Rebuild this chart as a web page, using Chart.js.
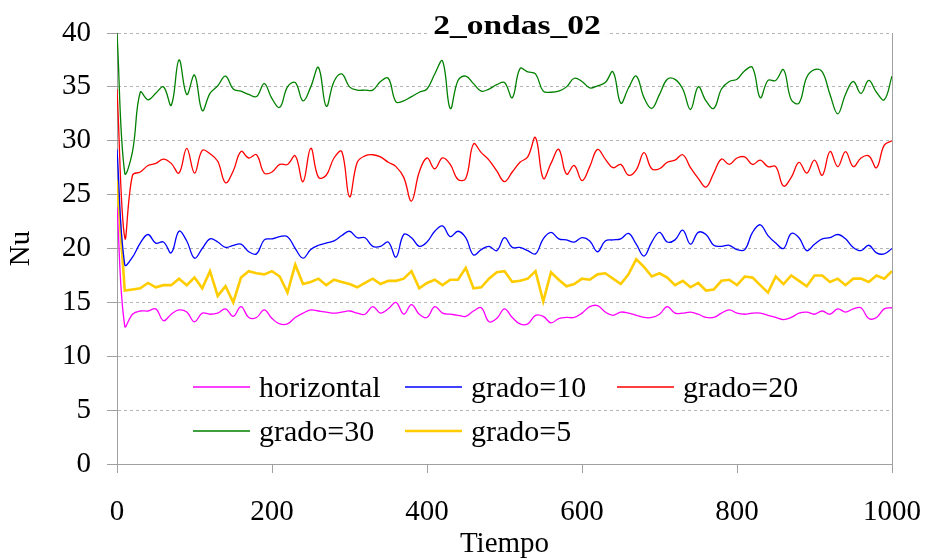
<!DOCTYPE html>
<html>
<head>
<meta charset="utf-8">
<title>2_ondas_02</title>
<script src="https://cdn.jsdelivr.net/npm/chart.js@4.4.0/dist/chart.umd.min.js"></script>
<style>
    html, body { margin: 0; padding: 0; background: #fff; }
</style>
</head>
<body>
<canvas id="chart" width="926" height="559"></canvas>
<script>
// Tiempo (x values)
const TIEMPO = [
    0, 10, 20, 30, 40, 50, 60, 70, 80, 90,
    100, 110, 120, 130, 140, 150, 160, 170, 180, 190,
    200, 210, 220, 230, 240, 250, 260, 270, 280, 290,
    300, 310, 320, 330, 340, 350, 360, 370, 380, 390,
    400, 410, 420, 430, 440, 450, 460, 470, 480, 490,
    500, 510, 520, 530, 540, 550, 560, 570, 580, 590,
    600, 610, 620, 630, 640, 650, 660, 670, 680, 690,
    700, 710, 720, 730, 740, 750, 760, 770, 780, 790,
    800, 810, 820, 830, 840, 850, 860, 870, 880, 890,
    900, 910, 920, 930, 940, 950, 960, 970, 980, 990,
    1000
];

const Y_TICKS = { min: 0, max: 40, step: 5 };
const X_TICKS = { min: 0, max: 1000, step: 200 };

// Nu per series
const HORIZONTAL = [
    23.8, 12.8, 13.9, 14.2, 14.2, 14.4, 13.3, 13.9, 14.3, 14.1,
    13.2, 14.0, 13.9, 14.0, 14.4, 13.7, 14.6, 13.6, 13.6, 14.3,
    13.5, 13.0, 13.0, 13.6, 14.0, 14.3, 14.2, 14.1, 14.0, 14.1,
    14.2, 14.0, 13.9, 14.6, 14.0, 14.4, 15.0, 13.9, 14.8, 13.9,
    13.6, 14.6, 14.0, 13.9, 13.8, 13.7, 14.2, 14.5, 13.2, 13.5,
    14.4, 13.6, 13.0, 13.0, 13.8, 13.7, 13.1, 13.5, 13.6, 13.6,
    14.0, 14.6, 14.7, 14.1, 13.8, 14.1, 14.0, 13.8, 13.6, 13.6,
    13.9, 14.6, 14.0, 14.0, 14.1, 13.9, 13.6, 13.6, 14.0, 14.3,
    14.0, 13.9, 14.0, 14.0, 13.8, 13.6, 13.4, 13.6, 14.0, 14.1,
    13.9, 14.2, 13.9, 14.4, 14.1, 14.4, 14.5, 13.5, 13.6, 14.4,
    14.5
];

const GRADO_10 = [
    29.2, 18.5, 19.2, 20.5, 21.3, 20.5, 20.6, 19.6, 21.6, 20.7,
    19.1, 20.0, 20.9, 20.6, 20.1, 20.3, 20.4, 19.7, 19.5, 20.8,
    20.9, 21.1, 21.1, 20.0, 19.1, 19.9, 20.3, 20.5, 20.7, 21.2,
    21.6, 21.0, 21.0, 20.2, 20.2, 20.6, 19.2, 21.3, 21.0, 20.2,
    20.6, 21.6, 22.1, 21.1, 21.6, 21.0, 19.4, 19.9, 20.2, 19.8,
    21.0, 20.1, 20.1, 19.8, 19.5, 20.9, 21.5, 20.9, 20.8, 20.6,
    21.0, 20.7, 19.7, 20.7, 20.8, 20.9, 21.4, 20.4, 19.3, 20.6,
    21.5, 20.6, 20.8, 21.7, 20.4, 21.5, 21.3, 20.3, 20.2, 20.3,
    19.9, 19.9, 21.5, 22.2, 21.2, 20.5, 20.0, 21.4, 21.0, 19.8,
    20.4, 20.9, 21.0, 21.3, 20.9, 20.1, 19.8, 20.3, 19.6, 19.5,
    20.0
];

const GRADO_20 = [
    34.8, 21.0, 26.8, 27.1, 27.7, 27.9, 28.3, 27.9, 27.0, 29.3,
    27.0, 29.1, 28.8, 28.1, 26.1, 27.2, 29.0, 28.4, 28.7, 27.0,
    27.1, 27.8, 27.8, 28.6, 26.2, 29.3, 26.6, 26.8, 28.4, 29.0,
    24.8, 28.0, 28.6, 28.7, 28.5, 28.0, 27.6, 26.6, 24.4, 27.1,
    28.4, 27.4, 28.4, 27.8, 26.4, 26.5, 29.7, 28.9, 28.2, 27.2,
    26.2, 27.1, 28.0, 28.5, 30.3, 26.5, 27.9, 29.2, 26.9, 27.7,
    26.3, 27.6, 29.2, 28.3, 27.5, 27.8, 26.8, 27.3, 28.9, 27.4,
    27.4, 28.0, 28.2, 28.7, 27.5, 26.5, 25.7, 27.0, 28.3, 27.8,
    28.4, 28.5, 27.8, 28.2, 27.6, 27.6, 25.8, 26.6, 28.0, 27.0,
    28.2, 26.8, 29.0, 27.6, 29.0, 27.6, 28.4, 28.6, 27.5, 29.6,
    30.0
];

const GRADO_30 = [
    40.0, 27.0, 29.0, 34.5, 33.8, 34.4, 35.0, 33.3, 37.5, 34.3,
    36.1, 32.8, 34.4, 35.1, 36.0, 34.8, 34.6, 34.3, 34.1, 35.3,
    33.9, 33.1, 35.0, 35.4, 33.7, 35.0, 36.8, 33.2, 35.5, 36.2,
    35.0, 34.7, 34.7, 34.7, 35.5, 35.8, 33.6, 33.7, 34.1, 34.5,
    34.8, 36.2, 37.4, 33.0, 35.6, 36.0, 35.3, 34.6, 34.8, 35.2,
    35.4, 34.0, 36.7, 36.4, 36.2, 34.6, 34.5, 34.6, 35.0, 35.8,
    35.5, 34.9, 35.1, 35.4, 36.4, 33.5, 34.9, 36.0, 34.0, 33.0,
    34.3, 35.7, 35.7, 34.8, 32.9, 35.0, 33.7, 33.0, 34.8, 35.5,
    35.7, 36.5, 36.8, 34.0, 35.6, 35.6, 36.6, 33.8, 33.5, 35.9,
    36.6, 36.4, 34.3, 32.5, 34.3, 35.5, 34.4, 35.6, 34.5, 33.8,
    36.0
];

const GRADO_5 = [
    26.3, 16.1, 16.2, 16.3, 16.8, 16.4, 16.6, 16.6, 17.2, 16.6,
    17.3, 16.3, 17.9, 15.6, 16.5, 15.0, 17.3, 17.9, 17.7, 17.6,
    17.9, 17.4, 15.9, 18.5, 16.7, 16.9, 17.2, 16.6, 17.1, 16.9,
    16.7, 16.4, 16.8, 17.2, 16.7, 17.0, 17.0, 17.2, 17.9, 16.3,
    16.8, 17.1, 16.6, 17.1, 17.1, 18.2, 16.3, 16.4, 17.2, 17.8,
    17.9, 16.9, 17.0, 17.2, 17.9, 15.1, 17.8, 17.1, 16.5, 16.7,
    17.2, 17.1, 17.6, 17.7, 17.2, 16.7, 17.6, 19.0, 18.3, 17.4,
    17.7, 17.3, 16.6, 17.0, 16.4, 16.8, 16.1, 16.2, 17.0, 17.1,
    16.6, 17.4, 17.3, 16.6, 15.9, 17.4, 16.7, 17.5, 17.0, 16.5,
    17.5, 17.5, 16.9, 17.2, 16.6, 17.2, 17.2, 16.9, 17.5, 17.2,
    17.9
];

const SERIES_LABELS = ['horizontal', 'grado=10', 'grado=20', 'grado=30', 'grado=5'];
const SERIES_VALUES = [HORIZONTAL, GRADO_10, GRADO_20, GRADO_30, GRADO_5];
const SERIES_COLORS = ['#ff00ff', '#0000ff', '#ff0000', '#008000', '#ffcc00'];

const SERIF = "'Liberation Serif', 'Times New Roman', serif";
const AXIS_GRAY = '#a0a0a0';

// Excel style legend inside the plot, 3 columns
const LEGEND = { x: 193, y: 387, colWidth: 212, rowHeight: 44, lineLen: 57, textGap: 66, fontSize: 30 };
const TITLE = { text: '2_ondas_02', x: 517, y: 34, fontSize: 27, stretch: 1.24 };

const frame = {
    id: 'frame',
    beforeDatasetsDraw(chart) {
        const { ctx, chartArea } = chart;
        ctx.save();
        ctx.strokeStyle = AXIS_GRAY;
        ctx.lineWidth = 1;
        ctx.beginPath();
        ctx.moveTo(chartArea.right + 0.5, chartArea.top);
        ctx.lineTo(chartArea.right + 0.5, chartArea.bottom);
        ctx.stroke();
        ctx.restore();
    }
};

const legendInside = {
    id: 'legendInside',
    afterDatasetsDraw(chart) {
        const ctx = chart.ctx;
        ctx.save();
        ctx.font = LEGEND.fontSize + 'px ' + SERIF;
        ctx.textBaseline = 'middle';
        ctx.textAlign = 'left';
        chart.data.datasets.forEach((ds, i) => {
            const x = LEGEND.x + (i % 3) * LEGEND.colWidth;
            const y = LEGEND.y + Math.floor(i / 3) * LEGEND.rowHeight;
            ctx.strokeStyle = ds.borderColor;
            ctx.lineWidth = ds.borderWidth;
            ctx.beginPath();
            ctx.moveTo(x, y);
            ctx.lineTo(x + LEGEND.lineLen, y);
            ctx.stroke();
            ctx.fillStyle = '#000';
            ctx.fillText(ds.label, x + LEGEND.textGap, y + 2);
        });
        ctx.restore();
    }
};

const stretchedTitle = {
    id: 'stretchedTitle',
    afterDraw(chart) {
        const ctx = chart.ctx;
        ctx.save();
        ctx.font = 'bold ' + TITLE.fontSize + 'px ' + SERIF;
        const w = ctx.measureText(TITLE.text).width * TITLE.stretch;
        ctx.fillStyle = '#fff';
        ctx.fillRect(TITLE.x - w / 2 - 6, TITLE.y - 22, w + 12, 30);
        ctx.translate(TITLE.x, TITLE.y);
        ctx.scale(TITLE.stretch, 1);
        ctx.fillStyle = '#000';
        ctx.textAlign = 'center';
        ctx.textBaseline = 'alphabetic';
        ctx.fillText(TITLE.text, 0, 0);
        ctx.restore();
    }
};

const ctx = document.getElementById('chart').getContext('2d');

new Chart(ctx, {
    type: 'line',
    data: {
        labels: TIEMPO,
        datasets: SERIES_LABELS.map((label, i) => ({
            label: label,
            data: SERIES_VALUES[i],
            borderColor: SERIES_COLORS[i],
            backgroundColor: SERIES_COLORS[i],
            borderWidth: label === 'grado=5' ? 2.6 : 1.3,
            tension: label === 'grado=5' ? 0 : 0.4,
            pointRadius: 0,
            fill: false
        }))
    },
    options: {
        responsive: false,
        animation: false,
        events: [],
        layout: {
            padding: { left: 0, top: 33, right: 34, bottom: 0 }
        },
        plugins: {
            legend: { display: false },
            title: { display: false },
            tooltip: { enabled: false }
        },
        scales: {
            x: {
                type: 'linear',
                min: X_TICKS.min,
                max: X_TICKS.max,
                afterFit: (scale) => {
                    scale.height = 95;
                    scale.paddingLeft = 0;
                    scale.paddingRight = 0;
                },
                ticks: {
                    stepSize: X_TICKS.step,
                    color: '#000',
                    padding: 22,
                    maxRotation: 0,
                    callback: (value) => String(value),
                    font: { family: SERIF, size: 29 }
                },
                grid: {
                    drawOnChartArea: false,
                    drawTicks: true,
                    tickLength: 9,
                    tickColor: AXIS_GRAY
                },
                border: { display: true, color: AXIS_GRAY, width: 1 },
                title: {
                    display: true,
                    text: 'Tiempo',
                    color: '#000',
                    padding: { top: 0, bottom: 0 },
                    font: { family: SERIF, size: 29, lineHeight: 1 }
                }
            },
            y: {
                min: Y_TICKS.min,
                max: Y_TICKS.max,
                afterFit: (scale) => {
                    scale.width = 117;
                    scale.paddingTop = 0;
                    scale.paddingBottom = 0;
                },
                ticks: {
                    stepSize: Y_TICKS.step,
                    color: '#000',
                    padding: 16,
                    font: { family: SERIF, size: 29 }
                },
                grid: {
                    color: '#b4b4b4',
                    lineWidth: 1,
                    drawTicks: true,
                    tickLength: 10,
                    tickColor: AXIS_GRAY,
                    tickBorderDash: []
                },
                border: { display: true, color: AXIS_GRAY, width: 1, dash: [3, 3] },
                title: {
                    display: true,
                    text: 'Nu',
                    color: '#000',
                    padding: { top: 7, bottom: 0 },
                    font: { family: SERIF, size: 29, lineHeight: 1 }
                }
            }
        }
    },
    plugins: [frame, legendInside, stretchedTitle]
});
</script>
</body>
</html>
